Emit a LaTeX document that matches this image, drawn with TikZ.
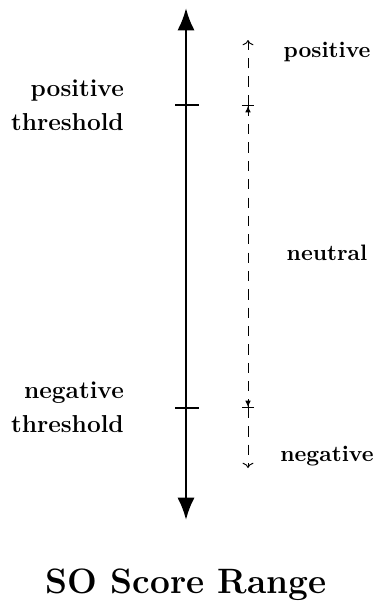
\documentclass[tikz,border=0pt]{standalone}
\usepackage{tikz}
\usetikzlibrary{positioning, calc, arrows.meta}

\begin{document}
\begin{tikzpicture}[x=0.01722cm, y=-0.01722cm,
    thrlabel/.style={font=\fontsize{12}{16.5}\selectfont\bfseries, align=right},
    rangename/.style={font=\fontsize{10.95}{13}\selectfont\bfseries},
    band/.style={dashed, dash pattern=on 5pt off 4pt, line width=0.45pt},
    axis/.style={line width=1.3pt}]
    \useasboundingbox (0,0) rectangle (373,605);

    % main score axis
    \coordinate (top) at (186,8);
    \coordinate (bottom) at (186,520);
    \draw[axis, {Latex[length=11pt,width=8.5pt]}-{Latex[length=11pt,width=8.5pt]}] (bottom) -- (top);

    % threshold ticks
    \coordinate (postick) at (186,105);
    \coordinate (negtick) at (186,408);
    \draw[axis] ($(postick)+(-11,0)$) -- ($(postick)+(13,0)$);
    \draw[axis] ($(negtick)+(-11,0)$) -- ($(negtick)+(13,0)$);
    \node[thrlabel, anchor=east] (posthr) at (131,105) {positive\\threshold};
    \node[thrlabel, anchor=east] (negthr) at (131,407) {negative\\threshold};

    % dashed ranges
    \coordinate (dpos) at (248,40);
    \coordinate (dposth) at (248,105);
    \coordinate (dnegth) at (248,408);
    \coordinate (dneg) at (248,468);
    \draw[band, ->] (dposth) -- (dpos);
    \draw[band, {Bar[width=6pt,sep=0pt]Latex[length=3.2pt,width=2.8pt,sep=0pt]}-{Latex[length=3.2pt,width=2.8pt,sep=0pt]Bar[width=6pt,sep=0pt]}] (dposth) -- (dnegth);
    \draw[band, ->] (dnegth) -- (dneg);

    % range names
    \node[rangename] (pos) at (327,52) {positive};
    \node[rangename] (neu) at (327,253) {neutral};
    \node[rangename] (neg) at (327,456) {negative};

    % caption
    \node[font=\fontsize{17.28}{20}\selectfont\bfseries] (title) at (186,585) {SO Score Range};
\end{tikzpicture}
\end{document}
